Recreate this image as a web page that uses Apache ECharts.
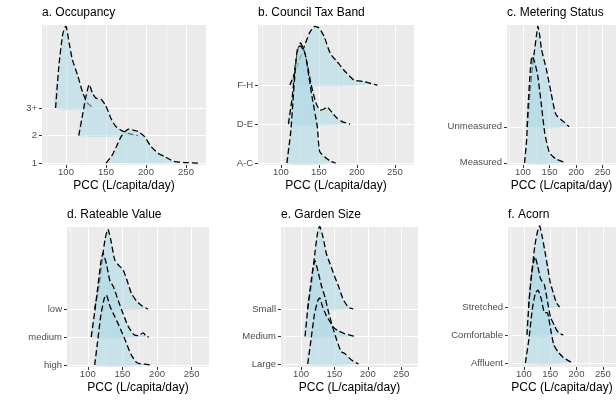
<!DOCTYPE html>
<html>
<head>
<meta charset="utf-8">
<script src="https://cdn.jsdelivr.net/npm/echarts@6/dist/echarts.min.js"></script>
<style>
  html, body { margin: 0; background: #fff; }
  #chart { width: 616px; height: 400px; }
</style>
</head>
<body>
<div id="chart"></div>
<script>
// x axis (PCC) ticks
const pccTicks = [100, 150, 200, 250]
const pccMinor = [75, 125, 175, 225, 275]

// ridges: [pcc, ridge height in category units], bottom category first
const occupancyCats = ['1', '2', '3+']
const occupancy1 = [[150, 0], [157, 0.25], [163, 0.6], [169, 0.97], [174, 1.15], [179, 1.24], [184, 1.2], [190, 1.15], [198, 0.97], [206, 0.61], [215, 0.36], [223, 0.24], [235, 0.06], [248, 0.02], [267, 0]]
const occupancy2 = [[116, 0], [121, 0.8], [125, 1.43], [129, 1.85], [133, 1.55], [137, 1.37], [144, 1.31], [150, 1.07], [156, 0.64], [162, 0.34], [171, 0.16], [179, 0.07], [190, 0]]
const occupancy3 = [[87, 0], [91, 1.5], [96, 2.7], [100, 2.97], [104, 2.36], [108, 1.76], [115, 1.15], [121, 0.55], [127, 0.18], [135, 0]]

const ctaxCats = ['A-C', 'D-E', 'F-H']
const ctaxAC = [[108, 0], [113, 0.8], [116, 1.6], [119, 2.4], [122, 2.95], [126, 3.0], [132, 2.8], [137, 2.2], [141, 1.7], [148, 0.92], [151, 0.3], [158, 0.15], [166, 0.04], [172, 0]]
const ctaxDE = [[110, 0], [115, 0.7], [119, 1.5], [123, 1.95], [126, 2.08], [131, 1.85], [135, 1.5], [140, 1.0], [146, 0.55], [151, 0.36], [156, 0.38], [161, 0.44], [167, 0.3], [174, 0.15], [182, 0.05], [191, 0]]
const ctaxFH = [[112, 0], [121, 0.45], [130, 0.95], [138, 1.35], [144, 1.5], [150, 1.47], [157, 1.24], [165, 0.81], [174, 0.6], [183, 0.38], [196, 0.13], [209, 0.09], [218, 0.04], [227, 0]]

const meterCats = ['Measured', 'Unmeasured']
const meterMeasured = [[103, 0], [107, 0.65], [110, 1.67], [114, 2.6], [117, 2.96], [122, 2.8], [128, 2.4], [135, 1.57], [141, 0.83], [150, 0.28], [162, 0.11], [181, 0]]
const meterUnmeasured = [[108, 0], [113, 0.94], [118, 1.7], [122, 2.15], [126, 2.6], [128, 2.8], [131, 2.6], [135, 2.15], [144, 1.6], [153, 0.94], [162, 0.34], [175, 0.16], [187, 0]]

const rateCats = ['high', 'medium', 'low']
const rateHigh = [[110, 0], [114, 0.8], [119, 1.8], [124, 2.4], [127, 2.5], [132, 2.1], [139, 1.73], [147, 1.3], [154, 0.89], [162, 0.4], [171, 0.08], [182, 0.03], [192, 0]]
const rateMedium = [[105, 0], [110, 0.9], [115, 1.9], [119, 2.7], [122, 3.0], [127, 2.6], [132, 2.0], [137, 1.8], [144, 1.3], [151, 0.83], [158, 0.4], [166, 0.1], [173, 0.05], [180, 0.15], [184, 0.03], [188, 0]]
const rateLow = [[110, 0], [116, 0.8], [121, 1.8], [125, 2.5], [129, 2.85], [133, 2.5], [139, 1.75], [145, 1.55], [151, 1.4], [157, 1.0], [163, 0.56], [170, 0.3], [178, 0.12], [187, 0]]

const gardenCats = ['Large', 'Medium', 'Small']
const gardenLarge = [[110, 0], [115, 0.9], [120, 1.8], [125, 2.3], [128, 2.4], [132, 2.1], [138, 1.75], [146, 1.42], [153, 0.9], [160, 0.45], [166, 0.37], [175, 0.15], [186, 0]]
const gardenMedium = [[106, 0], [110, 1.0], [115, 2.0], [118, 2.5], [121, 2.75], [126, 2.3], [131, 1.8], [136, 1.42], [142, 0.8], [148, 0.35], [156, 0.2], [165, 0.1], [176, 0.03], [182, 0]]
const gardenSmall = [[110, 0], [116, 1.0], [121, 2.1], [125, 2.8], [128, 3.0], [133, 2.6], [138, 2.0], [143, 1.67], [150, 1.2], [156, 0.83], [163, 0.35], [171, 0.06], [178, 0]]

const acornCats = ['Affluent', 'Comfortable', 'Stretched']
const acornAffluent = [[103, 0], [110, 0.9], [116, 1.9], [122, 2.5], [127, 2.6], [133, 2.3], [139, 1.8], [145, 1.8], [151, 1.2], [157, 0.65], [165, 0.4], [175, 0.2], [187, 0.06], [195, 0]]
const acornComfortable = [[106, 0], [110, 1.2], [115, 2.2], [121, 2.8], [126, 2.5], [132, 2.0], [139, 1.8], [145, 1.2], [151, 0.62], [158, 0.35], [163, 0.15], [169, 0.05], [175, 0]]
const acornStretched = [[109, 0], [115, 1.2], [121, 2.2], [126, 2.7], [130, 2.9], [134, 2.6], [140, 2.0], [145, 1.45], [150, 0.9], [156, 0.5], [162, 0.15], [168, 0]]

const panels = [
  { title: 'a. Occupancy', cats: occupancyCats, ridges: [occupancy1, occupancy2, occupancy3], box: { left: 42, top: 25, width: 164, height: 140 }, yMin: 0.93, yMax: 6.02 },
  { title: 'b. Council Tax Band', cats: ctaxCats, ridges: [ctaxAC, ctaxDE, ctaxFH], box: { left: 258, top: 25, width: 156, height: 140 }, yMin: 0.95, yMax: 4.54 },
  { title: 'c. Metering Status', cats: meterCats, ridges: [meterMeasured, meterUnmeasured], box: { left: 507, top: 25, width: 111, height: 140 }, yMin: 0.94, yMax: 4.83 },
  { title: 'd. Rateable Value', cats: rateCats, ridges: [rateHigh, rateMedium, rateLow], box: { left: 67, top: 227, width: 142, height: 140 }, yMin: 0.93, yMax: 5.93 },
  { title: 'e. Garden Size', cats: gardenCats, ridges: [gardenLarge, gardenMedium, gardenSmall], box: { left: 281, top: 227, width: 137, height: 140 }, yMin: 0.89, yMax: 5.98 },
  { title: 'f. Acorn', cats: acornCats, ridges: [acornAffluent, acornComfortable, acornStretched], box: { left: 508, top: 227, width: 113, height: 140 }, yMin: 0.86, yMax: 5.86 }
]

const font = 'Liberation Sans, Arial, sans-serif'
const grid = []
const xAxis = []
const yAxis = []
const series = []
const title = []

panels.forEach((p, k) => {
  const catVals = p.cats.map((c, i) => i + 1)
  grid.push(Object.assign({ show: true, backgroundColor: '#EBEBEB', borderWidth: 0 }, p.box))
  title.push({
    text: p.title,
    left: p.box.left,
    top: p.box.top - 18,
    padding: 0,
    textStyle: { fontFamily: font, fontSize: 12, fontWeight: 'normal', color: '#000' }
  })
  // major axis
  xAxis.push({
    type: 'value',
    gridIndex: k,
    min: 70,
    max: 275,
    name: 'PCC (L/capita/day)',
    nameLocation: 'middle',
    nameGap: 15,
    nameTextStyle: { fontFamily: font, fontSize: 12, color: '#000' },
    axisLine: { show: false },
    axisTick: { show: true, length: 3, customValues: pccTicks, lineStyle: { color: '#333' } },
    axisLabel: { customValues: pccTicks, fontFamily: font, fontSize: 9.5, color: '#4D4D4D', margin: 2 },
    splitLine: { show: true, lineStyle: { color: '#fff', width: 1 } }
  })
  // minor grid lines
  xAxis.push({
    type: 'value',
    gridIndex: k,
    min: 70,
    max: 275,
    axisLine: { show: false },
    axisLabel: { show: false },
    axisTick: { show: false, customValues: pccMinor },
    splitLine: { show: true, lineStyle: { color: '#fff', width: 0.5 } }
  })
  yAxis.push({
    type: 'value',
    gridIndex: k,
    min: p.yMin,
    max: p.yMax,
    axisLine: { show: false },
    axisTick: { show: true, length: 3, customValues: catVals, lineStyle: { color: '#333' } },
    axisLabel: {
      customValues: catVals,
      formatter: (v) => p.cats[Math.round(v) - 1],
      fontFamily: font,
      fontSize: 9.5,
      color: '#4D4D4D',
      margin: 5
    },
    splitLine: { show: true, lineStyle: { color: '#fff', width: 1 } }
  })
  const n = p.ridges.length
  series.push({
    type: 'custom',
    xAxisIndex: 2 * k,
    yAxisIndex: k,
    silent: true,
    data: p.ridges.map((r, i) => [r[0][0], i + 1]),
    renderItem: function (params, api) {
      const i = params.dataIndex
      const ridge = p.ridges[i]
      const base = i + 1
      const pts = ridge.map((d) => api.coord([d[0], base + d[1]]))
      return {
        type: 'group',
        children: [
          {
            type: 'polygon',
            z2: (n - i) * 2,
            shape: { points: pts, smooth: 0.2 },
            style: { fill: 'rgba(173,216,230,0.55)', stroke: null }
          },
          {
            type: 'polyline',
            z2: (n - i) * 2 + 1,
            shape: { points: pts, smooth: 0.2 },
            style: { fill: null, stroke: '#000', lineWidth: 1.3, lineDash: [6, 3] }
          }
        ]
      }
    }
  })
})

const myChart = echarts.init(document.getElementById('chart'))
myChart.setOption({
  animation: false,
  backgroundColor: '#fff',
  title: title,
  grid: grid,
  xAxis: xAxis,
  yAxis: yAxis,
  series: series
})
</script>
</body>
</html>
